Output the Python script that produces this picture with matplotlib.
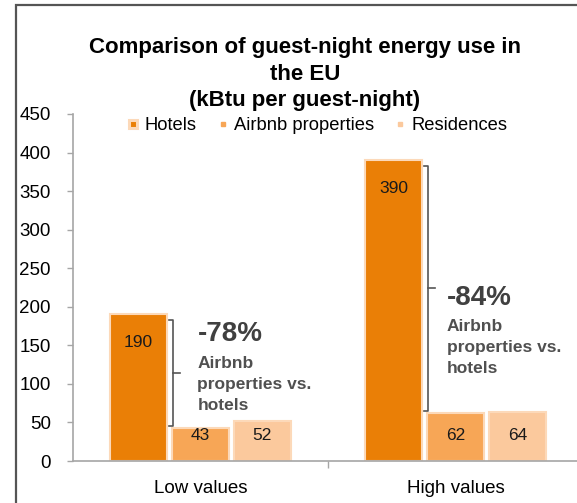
import matplotlib
matplotlib.use("Agg")
import matplotlib.pyplot as plt
from matplotlib.lines import Line2D
from matplotlib.patches import Rectangle
import numpy as np

plt.rcParams['font.family'] = ['Liberation Sans', 'DejaVu Sans']

categories = ["Low values", "High values"]
series_names = ["Hotels", "Airbnb properties", "Residences"]
hotels = [190, 390]
airbnb = [43, 62]
residences = [52, 64]
reductions = ["-78%", "-84%"]
note = "Airbnb\nproperties vs.\nhotels"
yticks = [0, 50, 100, 150, 200, 250, 300, 350, 400, 450]

colors = ["#EA7F06", "#F7A656", "#FBC99D"]
edge = "#FCD9B9"

W, H = 577, 503
fig = plt.figure(figsize=(W / 100, H / 100), dpi=100)
ax_left = 73 / W
ax_bottom = (H - 461) / H
ax_top = (H - 114) / H
ax = fig.add_axes([ax_left, ax_bottom, 1 - ax_left, ax_top - ax_bottom])

x = np.arange(len(categories))
bw = 0.22
off = 0.243
series = [hotels, airbnb, residences]
for i, (vals, c) in enumerate(zip(series, colors)):
    xs = x + (i - 1) * off
    ax.bar(xs, vals, width=bw, color=c, edgecolor=edge, linewidth=1.5, zorder=2)
    for xi, v in zip(xs, vals):
        ly = v - 36 if v - 36 > 33 else 33
        ax.text(xi, ly, str(v), ha='center', va='center', fontsize=12.5, color='#1a1a1a', zorder=3)

ax.set_xlim(-0.5, -0.5 + (W - 73) / 255)
ax.set_ylim(0, 450)
ax.set_yticks(yticks)
ax.set_xticks(x)
ax.set_xticklabels(categories, fontsize=13.5)
ax.set_xticks([0.5], minor=True)
ax.tick_params(axis='x', which='major', length=0, pad=14)
ax.tick_params(axis='x', which='minor', length=5, color='#A6A6A6', width=1)
ax.tick_params(axis='y', length=4, color='#A6A6A6', width=1, pad=12, labelsize=13.5)
for s in ['top', 'right']:
    ax.spines[s].set_visible(False)
for s in ['left', 'bottom']:
    ax.spines[s].set_color('#A6A6A6')
    ax.spines[s].set_linewidth(1.2)

# brackets and annotations
bx_off = -0.106
text_dx = [0.094, 0.071]
text_dy = [50, -12]
for g in range(len(categories)):
    top = hotels[g] - 7
    bot = airbnb[g] + 2.5
    mid = (top + bot) / 2
    bx = x[g] + bx_off
    ax.plot([bx - 0.017, bx, bx, bx - 0.017], [top, top, bot, bot], color='#555555', lw=1.2, zorder=3)
    ax.plot([bx, bx + 0.027], [mid, mid], color='#555555', lw=1.2, zorder=3)
    tx = bx + text_dx[g]
    ax.text(tx, mid + text_dy[g], reductions[g], ha='left', va='center', fontsize=20,
            fontweight='bold', color='#404040')
    ax.text(tx, mid + text_dy[g] - 65, note, ha='left', va='center', fontsize=12.5,
            fontweight='bold', color='#505050', linespacing=1.5)

# legend
handles = [
    Line2D([], [], ls='none', marker='s', markersize=6, markerfacecolor=colors[0],
           markeredgecolor=edge, markeredgewidth=2.2),
    Line2D([], [], ls='none', marker='s', markersize=3, markerfacecolor=colors[1],
           markeredgecolor=colors[1]),
    Line2D([], [], ls='none', marker='s', markersize=3, markerfacecolor=colors[2],
           markeredgecolor=colors[2]),
]
fig.legend(handles, series_names, loc='center', bbox_to_anchor=(318 / W, 1 - 126 / H),
           ncol=3, frameon=False, fontsize=13.2, handlelength=0.5, handletextpad=0.35,
           columnspacing=1.2, borderpad=0, borderaxespad=0)

fig.text(305 / W, 1 - 74 / H,
         "Comparison of guest-night energy use in\nthe EU\n(kBtu per guest-night)",
         ha='center', va='center', fontsize=16, fontweight='bold', linespacing=1.33)

fig.patches.append(Rectangle((16 / W, -0.1), 2, 1.1 - 5 / H, transform=fig.transFigure,
                             fill=False, edgecolor='#555555', lw=1.6, clip_on=False))

fig.savefig("out.png", dpi=100)
